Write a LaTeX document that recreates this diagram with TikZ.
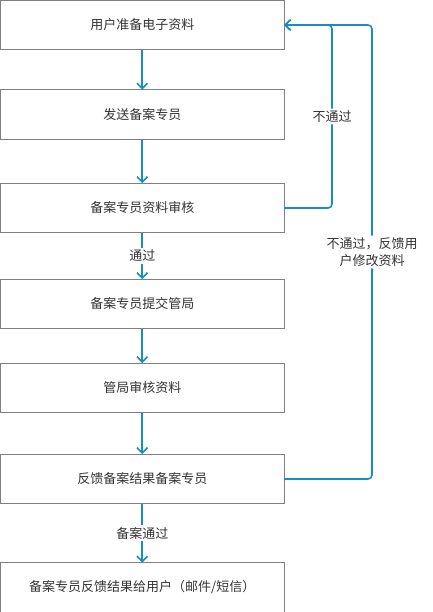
\documentclass[tikz,border=0pt]{standalone}
\usepackage{fontspec}
\setmainfont{Noto Sans CJK SC}
\usetikzlibrary{positioning, arrows.meta}
\definecolor{flowblue}{RGB}{22,143,192}
\definecolor{boxgray}{RGB}{128,128,128}
\definecolor{textgray}{RGB}{51,51,51}

\begin{document}
\begin{tikzpicture}[
    x=1bp,
    y=-1bp,
    >={Straight Barb[length=5.5bp, width=10.5bp]},
    font=\fontsize{13bp}{16.5bp}\selectfont,
    text=textgray,
    stepbox/.style={rectangle, draw=boxgray, line width=0.9bp, minimum width=283.5bp, minimum height=49.5bp, outer sep=0pt, inner sep=0pt},
    flow/.style={->, draw=flowblue, line width=1.6bp},
    back/.style={->, draw=flowblue, line width=1.6bp, rounded corners=4bp},
    tag/.style={fill=white, inner sep=2bp, align=center}
  ]
  \useasboundingbox (0,0) rectangle (432,612);

  % --- BOXES ---
  \node[stepbox] (prep) at (142.25,25) {用户准备电子资料};
  \node[stepbox, below=40bp of prep] (send) {发送备案专员};
  \node[stepbox, below=44bp of send] (check) {备案专员资料审核};
  \node[stepbox, below=46.5bp of check] (submit) {备案专员提交管局};
  \node[stepbox, below=34.5bp of submit] (review) {管局审核资料};
  \node[stepbox, below=41.5bp of review] (result) {反馈备案结果备案专员};
  \node[stepbox, below=59bp of result] (notify) {备案专员反馈结果给用户（邮件/短信）};

  % --- MAIN FLOW ---
  \draw[flow] (prep) -- (send);
  \draw[flow] (send) -- (check);
  \draw[flow] (check) -- node[tag] {通过} (submit);
  \draw[flow] (submit) -- (review);
  \draw[flow] (review) -- (result);
  \draw[flow] (result) -- node[tag] {备案通过} (notify);

  % --- FEEDBACK LOOPS ---
  \draw[back] (check.east) -| node[tag, pos=0.75] {不通过} ([xshift=48bp]prep.east) -- (prep.east);
  \draw[back] (result.east) -| node[tag, pos=0.75] {不通过，反馈用\\户修改资料} ([xshift=88bp]prep.east) -- (prep.east);

\end{tikzpicture}
\end{document}
